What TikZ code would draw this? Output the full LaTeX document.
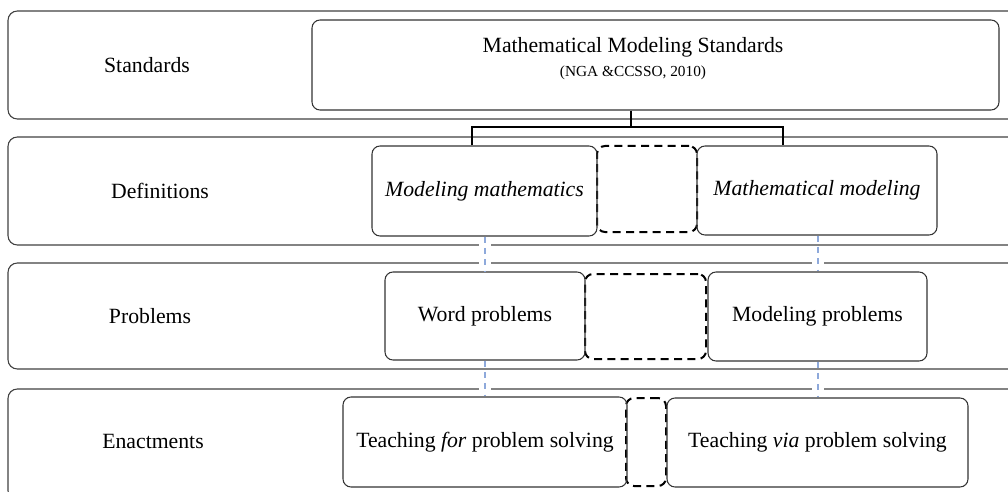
\documentclass[tikz,border=0pt]{standalone}
\usepackage{fontspec}
\setmainfont{Liberation Serif}
\definecolor{rowc}{HTML}{404040}
\definecolor{boxc}{HTML}{333333}
\definecolor{blued}{HTML}{8EA9DB}
\begin{document}
\begin{tikzpicture}[x=0.75pt,y=-0.75pt,
  rowbox/.style={draw=rowc,line width=0.8pt,rounded corners=7pt},
  ibox/.style 2 args={draw=boxc,line width=0.8pt,rounded corners=6pt,inner sep=0pt,
     minimum width=#1*0.75pt,minimum height=#2*0.75pt,
     font=\fontsize{16.3}{19}\selectfont},
  dbox/.style 2 args={draw=black,line width=1.5pt,dash pattern=on 6pt off 4pt,rounded corners=6pt,inner sep=0pt,
     minimum width=#1*0.75pt,minimum height=#2*0.75pt},
  lbl/.style={inner sep=0pt,font=\fontsize{16.3}{19}\selectfont},
  small/.style={inner sep=0pt,font=\fontsize{11.5}{14}\selectfont},
  bracket/.style={draw=black,line width=1.6pt},
  bluedash/.style={draw=blued,line width=1.5pt,dash pattern=on 4.5pt off 4pt},
  gap/.style={fill=white,draw=none}]
\useasboundingbox (0,0) rectangle (1008,492);
\begin{scope}
\clip (0,0) rectangle (1008,492);
% rows
\draw[rowbox] (8,11) rectangle (1025,119);
\draw[rowbox] (8,137) rectangle (1025,245);
\draw[rowbox] (8,263) rectangle (1025,369);
\draw[rowbox] (8,389) rectangle (1025,500);
\end{scope}
% row labels
\node[lbl] (lS) at (147,65) {Standards};
\node[lbl] (lD) at (160,191) {Definitions};
\node[lbl] (lP) at (150,316) {Problems};
\node[lbl] (lE) at (153,441) {Enactments};
% standards box
\node[ibox={687}{90}] (std) at (655.5,65) {};
\node[lbl] (t1) at (633,47) {Mathematical Modeling Standards};
\node[small] (t2) at (633,73) {(NGA \&CCSSO, 2010)};
% dashed boxes
\node[dbox={100}{86}] (d1) at (647,189) {};
\node[dbox={121}{85}] (d2) at (645.5,316.5) {};
\node[dbox={40}{88}] (d3) at (646,442) {};
% definitions
\node[ibox={225}{90}] (mm) at (484.5,191) {\itshape Modeling mathematics};
\node[ibox={240}{89}] (mmod) at (817,190.5) {\itshape Mathematical modeling};
% problems
\node[ibox={200}{88}] (wp) at (485,316) {Word problems};
\node[ibox={219}{89}] (modp) at (817.5,316.5) {Modeling problems};
% enactments
\node[ibox={284}{90}] (tf) at (485,442) {Teaching \textit{for} problem solving};
\node[ibox={301}{89}] (tv) at (817.5,442.5) {Teaching \textit{via} problem solving};
% bracket
\coordinate (bj) at (631,127);
\coordinate (bl) at (472,127);
\coordinate (br) at (783,127);
\draw[bracket] (bj |- std.south) -- (bj);
\draw[bracket] (bl |- mm.north) -- (bl) -- (br) -- (br |- mmod.north);
% gaps in row lines
\fill[gap] (479,241) rectangle (491,249);
\fill[gap] (479,259) rectangle (491,267);
\fill[gap] (812,259) rectangle (824,267);
\fill[gap] (479,385) rectangle (491,393);
\fill[gap] (812,385) rectangle (824,393);
% blue dashed links
\draw[bluedash] (wp.north |- mm.south) -- (wp.north);
\draw[bluedash] (wp.south) -- (wp.south |- tf.north);
\draw[bluedash] (modp.north |- mmod.south) -- (modp.north);
\draw[bluedash] (modp.south) -- (modp.south |- tv.north);
\end{tikzpicture}
\end{document}
